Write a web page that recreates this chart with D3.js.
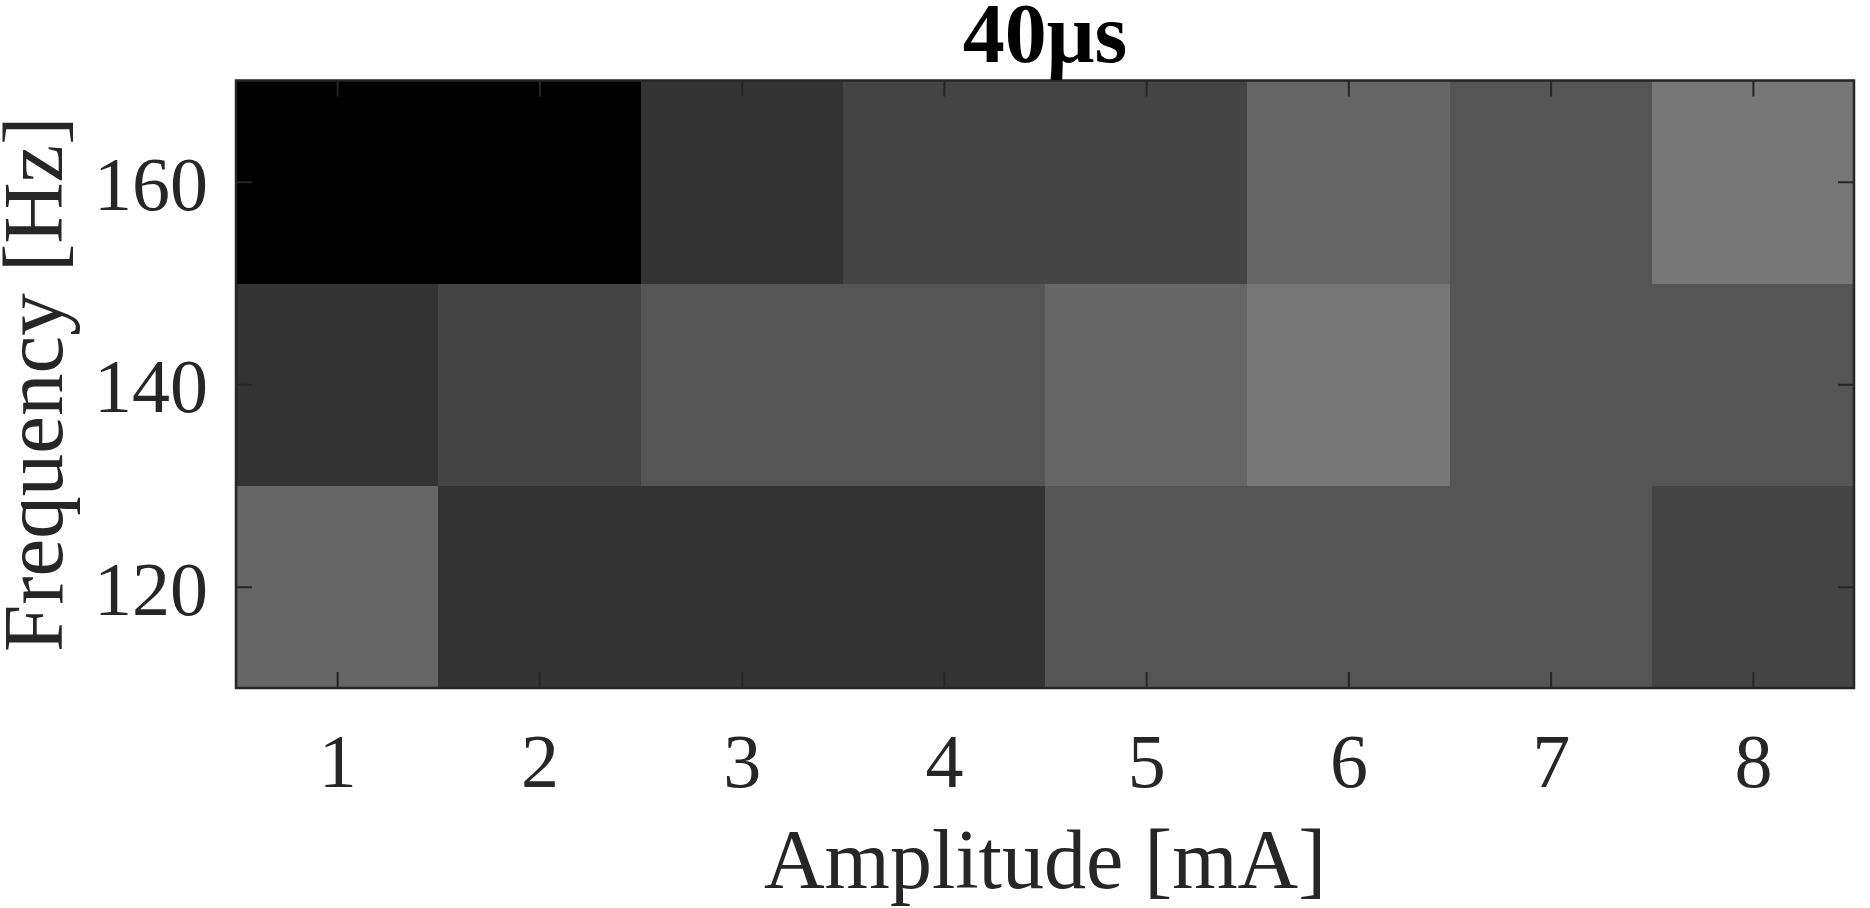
<!DOCTYPE html>
<html>
<head>
<meta charset="utf-8">
<script src="https://cdn.jsdelivr.net/npm/d3@7"></script>
<style>
  html, body { margin: 0; padding: 0; background: #fff; }
  svg { display: block; }
</style>
</head>
<body>
<svg id="chart" width="1870" height="908"></svg>
<script>
// ---- data ----
const amplitudes = [1, 2, 3, 4, 5, 6, 7, 8];           // mA
const frequencies = [120, 140, 160];                   // Hz
const xTickLabels = ["1", "2", "3", "4", "5", "6", "7", "8"];
const yTickLabels = ["120", "140", "160"];
// gray-level values per frequency row (colormap: gray, clim 0..15)
const values120 = [6, 3, 3, 3, 5, 5, 5, 4];
const values140 = [3, 4, 5, 5, 6, 7, 5, 5];
const values160 = [0, 0, 3, 4, 4, 6, 5, 7];
const title = "40μs";
const xLabel = "Amplitude [mA]";
const yLabel = "Frequency [Hz]";

const rows = [
  { f: 120, v: values120 },
  { f: 140, v: values140 },
  { f: 160, v: values160 }
];
const cells = [];
rows.forEach(r => r.v.forEach((val, i) => cells.push({ a: amplitudes[i], f: r.f, val })));

// ---- layout ----
const L = 236, R = 1854, T = 80.5, B = 688;
const svg = d3.select("#chart");
const x = d3.scaleLinear().domain([0.5, 8.5]).range([L, R]);
const y = d3.scaleLinear().domain([110, 170]).range([B, T]);
const color = d3.scaleLinear().domain([0, 15]).range(["#000000", "#ffffff"]);

const axisColor = "#262626";
const font = "'Liberation Serif', 'Times New Roman', serif";

// cells
svg.append("g").selectAll("rect").data(cells).join("rect")
  .attr("x", d => x(d.a - 0.5))
  .attr("y", d => y(d.f + 10))
  .attr("width", d => x(d.a + 0.5) - x(d.a - 0.5) + 0.5)
  .attr("height", d => y(d.f - 10) - y(d.f + 10) + 0.5)
  .attr("fill", d => color(d.val))
  .attr("shape-rendering", "crispEdges");

const tickLen = 16;

// bottom axis
const gx = svg.append("g").attr("transform", `translate(0,${B})`)
  .call(d3.axisBottom(x).tickValues(amplitudes).tickFormat((d, i) => xTickLabels[i])
        .tickSizeInner(-tickLen).tickSizeOuter(0));
gx.select(".domain").remove();
gx.selectAll("line").attr("stroke", axisColor).attr("stroke-width", 2);
gx.selectAll("text").attr("y", 99).attr("dy", 0)
  .attr("font-family", font).attr("font-size", 76).attr("fill", axisColor);

// top axis (ticks only)
const gxt = svg.append("g").attr("transform", `translate(0,${T})`)
  .call(d3.axisTop(x).tickValues(amplitudes).tickFormat("")
        .tickSizeInner(-tickLen).tickSizeOuter(0));
gxt.select(".domain").remove();
gxt.selectAll("line").attr("stroke", axisColor).attr("stroke-width", 2);

// left axis
const gy = svg.append("g").attr("transform", `translate(${L},0)`)
  .call(d3.axisLeft(y).tickValues(frequencies).tickFormat((d, i) => yTickLabels[i])
        .tickSizeInner(-tickLen).tickSizeOuter(0).tickPadding(28));
gy.select(".domain").remove();
gy.selectAll("line").attr("stroke", axisColor).attr("stroke-width", 2);
gy.selectAll("text").attr("x", -28).attr("dy", "0.36em")
  .attr("font-family", font).attr("font-size", 76).attr("fill", axisColor);

// right axis (ticks only)
const gyr = svg.append("g").attr("transform", `translate(${R},0)`)
  .call(d3.axisRight(y).tickValues(frequencies).tickFormat("")
        .tickSizeInner(-tickLen).tickSizeOuter(0));
gyr.select(".domain").remove();
gyr.selectAll("line").attr("stroke", axisColor).attr("stroke-width", 2);

// box
svg.append("rect")
  .attr("x", L).attr("y", T).attr("width", R - L).attr("height", B - T)
  .attr("fill", "none").attr("stroke", axisColor).attr("stroke-width", 2.5);

// title
svg.append("text")
  .attr("x", (L + R) / 2).attr("y", 62)
  .attr("text-anchor", "middle")
  .attr("font-family", font).attr("font-weight", "bold").attr("font-size", 84)
  .attr("fill", "#000").text(title);

// x label
svg.append("text")
  .attr("x", (L + R) / 2).attr("y", 888)
  .attr("text-anchor", "middle")
  .attr("font-family", font).attr("font-size", 84)
  .attr("fill", axisColor).text(xLabel);

// y label
svg.append("text")
  .attr("transform", `translate(62,${(T + B) / 2}) rotate(-90)`)
  .attr("text-anchor", "middle")
  .attr("font-family", font).attr("font-size", 85)
  .attr("fill", axisColor).text(yLabel);
</script>
</body>
</html>
